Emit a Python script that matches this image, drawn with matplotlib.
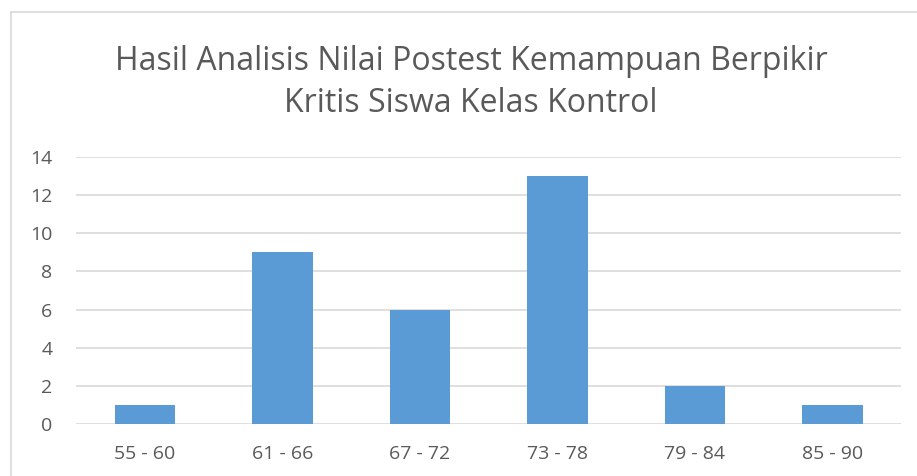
import matplotlib
matplotlib.use("Agg")
import matplotlib.pyplot as plt
from matplotlib.lines import Line2D
import numpy as np

categories = ["55 - 60", "61 - 66", "67 - 72", "73 - 78", "79 - 84", "85 - 90"]
counts = [1, 9, 6, 13, 2, 1]
yticks = [0, 2, 4, 6, 8, 10, 12, 14]

BAR = "#5B9BD5"
GRID = "#D9D9D9"
TEXT = "#595959"

plt.rcParams['font.family'] = ['Open Sans', 'DejaVu Sans']

W, H = 917, 476
fig = plt.figure(figsize=(W / 100, H / 100), dpi=100)

# plot area in pixel coordinates of the reference
left, right, top, bottom = 76, 901, 157, 424
ax = fig.add_axes([left / W, 1 - bottom / H, (right - left) / W, (bottom - top) / H])

pos = np.arange(len(categories))
ax.bar(pos, counts, width=0.44, color=BAR, zorder=3)
ax.set_xlim(-0.5, len(categories) - 0.5)
ax.set_ylim(0, 14)
ax.set_yticks(yticks)
ax.set_yticklabels([str(t) for t in yticks], fontsize=14, color=TEXT)
ax.set_xticks(pos)
ax.set_xticklabels(categories, fontsize=14, color=TEXT)
ax.tick_params(axis='both', length=0)
ax.tick_params(axis='y', pad=17)
ax.tick_params(axis='x', pad=15)
ax.yaxis.grid(True, color=GRID, linewidth=1.2, zorder=0)
for s in ax.spines.values():
    s.set_visible(False)
ax.set_facecolor('none')

# chart border (left and top edges visible)
fig.add_artist(Line2D([11 / W, 11 / W], [0, 1 - 12 / H], transform=fig.transFigure, color=GRID, linewidth=1.2))
fig.add_artist(Line2D([11 / W, 1], [1 - 12 / H, 1 - 12 / H], transform=fig.transFigure, color=GRID, linewidth=1.2))

fig.text(471 / W, 1 - 82 / H, "Hasil Analisis Nilai Postest Kemampuan Berpikir\nKritis Siswa Kelas Kontrol",
         ha='center', va='center', fontsize=23, color=TEXT, linespacing=1.36)

fig.savefig("out.png", dpi=100)
